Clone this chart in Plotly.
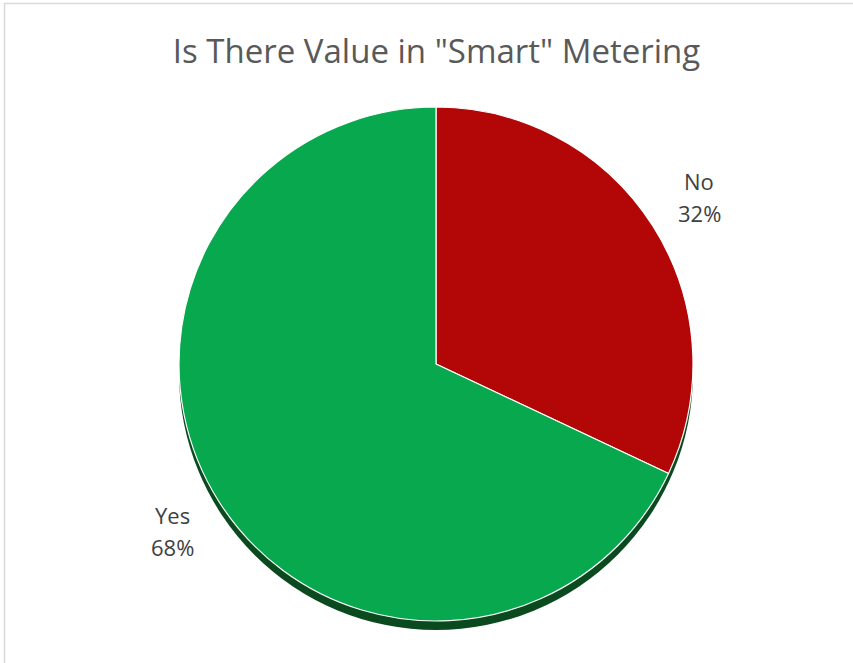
import math
import plotly.graph_objects as go

# Survey answers
labels = ["No", "Yes"]
shares = [32, 68]
colors = ["#b30606", "#08a84f"]

W, H = 853, 663
cx, cy, r = 436, 364, 257          # pie centre / radius in px
shadow_dy = 9                      # drop shadow offset in px
label_dist = 312                   # distance of slice labels from centre
line_gap = 16                      # half spacing between label lines

def dom(cx_px, cy_px, rad):
    return dict(x=[(cx_px - rad) / W, (cx_px + rad) / W],
                y=[(H - cy_px - rad) / H, (H - cy_px + rad) / H])

fig = go.Figure()

# shadow disc under the pie
fig.add_trace(go.Pie(
    values=[1], labels=["shadow"], marker=dict(colors=["#0b4a1f"]),
    textinfo="none", hoverinfo="skip", sort=False, showlegend=False,
    domain=dom(cx, cy + shadow_dy, r),
))

fig.add_trace(go.Pie(
    values=shares, labels=labels, sort=False, direction="clockwise",
    rotation=0, marker=dict(colors=colors, line=dict(color="white", width=1.2)),
    textinfo="none", showlegend=False, domain=dom(cx, cy, r),
))

# slice labels placed at each slice's mid-angle
label_font = dict(family="Open Sans", size=22, color="#404040")
total = sum(shares)
start = 0.0
for lab, v in zip(labels, shares):
    mid = (start + v / 2) / total * 2 * math.pi
    start += v
    px = cx + label_dist * math.sin(mid)
    py = cy - label_dist * math.cos(mid)
    for txt, dy in ((lab, -line_gap), (f"{round(100 * v / total)}%", line_gap)):
        fig.add_annotation(
            x=px / W, y=(H - py - dy) / H, xref="paper", yref="paper",
            text=txt, showarrow=False, font=label_font,
            xanchor="center", yanchor="middle",
        )

# chart border
fig.add_shape(type="rect", xref="paper", yref="paper",
              x0=4.5 / W, x1=1.05, y0=-0.05, y1=(H - 3.5) / H,
              line=dict(color="#d9d9d9", width=1.5))

fig.update_layout(
    width=W, height=H, margin=dict(l=0, r=0, t=0, b=0),
    paper_bgcolor="white", plot_bgcolor="white",
    title=dict(text='Is There Value in "Smart" Metering', x=436.5 / W, xanchor="center",
               y=1 - 51 / H, yanchor="middle",
               font=dict(family="Open Sans", size=33, color="#595959")),
)

fig.write_html("out.html")
